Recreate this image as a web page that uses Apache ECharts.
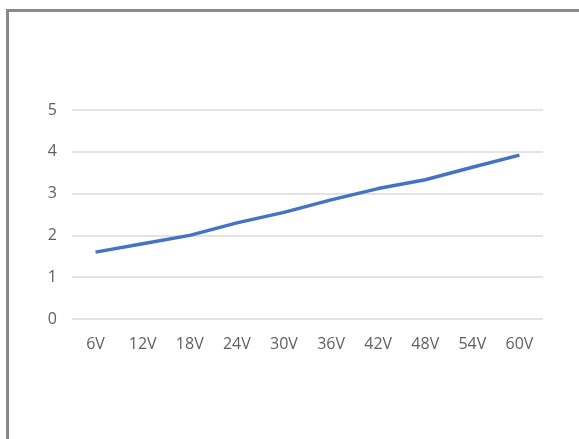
<!DOCTYPE html>
<html>
<head>
<meta charset="utf-8">
<script src="https://cdn.jsdelivr.net/npm/echarts@6/dist/echarts.min.js"></script>
<style>
html,body{margin:0;padding:0;background:#fff;}
#frame{position:absolute;left:6px;top:9px;width:580px;height:440px;border-left:3px solid #8a8a8a;border-top:3px solid #8a8a8a;}
#chart{position:absolute;left:0;top:0;width:579px;height:439px;}
</style>
</head>
<body>
<div id="frame"></div>
<div id="chart"></div>
<script>
const categories = ['6V','12V','18V','24V','30V','36V','42V','48V','54V','60V'];
const values = [1.6, 1.8, 2.0, 2.3, 2.55, 2.85, 3.12, 3.33, 3.63, 3.92];
const yTicks = {min: 0, max: 5, interval: 1};

const chart = echarts.init(document.getElementById('chart'), null, {renderer: 'canvas'});
chart.setOption({
  animation: false,
  backgroundColor: 'transparent',
  grid: {left: 72, right: 36, top: 110, bottom: 120},
  xAxis: {
    type: 'category',
    data: categories,
    boundaryGap: true,
    axisLine: {show: false},
    axisTick: {show: false},
    axisLabel: {color: '#5f5f5f', fontSize: 16, fontFamily: 'Open Sans', margin: 17}
  },
  yAxis: {
    type: 'value',
    min: yTicks.min, max: yTicks.max, interval: yTicks.interval,
    axisLine: {show: false},
    axisTick: {show: false},
    axisLabel: {color: '#5f5f5f', fontSize: 16, fontFamily: 'Open Sans', margin: 15},
    splitLine: {lineStyle: {color: '#e3e3e3', width: 2}}
  },
  series: [{
    type: 'line',
    data: values,
    symbol: 'none',
    lineStyle: {color: '#4472c4', width: 3.5}
  }]
});
</script>
</body>
</html>
